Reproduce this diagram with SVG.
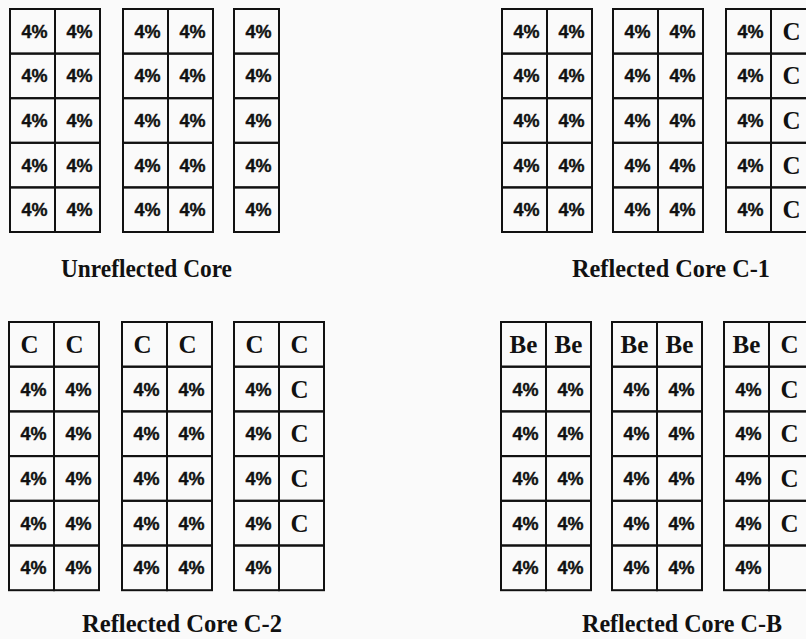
<svg xmlns="http://www.w3.org/2000/svg" width="806" height="639" viewBox="0 0 806 639">
<style>
.bg{fill:#fafafa}
.c{fill:none;stroke:#111;stroke-width:2}
.p{font-family:"Liberation Sans",Arial,sans-serif;font-weight:900;font-size:18px;fill:#111;text-anchor:middle;stroke:#111;stroke-width:0.4}
.k{font-family:"Liberation Serif","Times New Roman",serif;font-weight:bold;font-size:25px;fill:#111;text-anchor:middle}
.b{font-family:"Liberation Serif","Times New Roman",serif;font-weight:bold;font-size:25px;fill:#111;text-anchor:middle}
.t{font-family:"Liberation Serif","Times New Roman",serif;font-weight:bold;font-size:25px;fill:#111;text-anchor:middle}
</style>
<rect class="bg" x="0" y="0" width="806" height="639"/>

<g id="unreflected-core">
 <g id="ur-block1">
  <rect class="c" x="10" y="9" width="45" height="44.6"/><rect class="c" x="55" y="9" width="45" height="44.6"/>
  <rect class="c" x="10" y="53.6" width="45" height="44.6"/><rect class="c" x="55" y="53.6" width="45" height="44.6"/>
  <rect class="c" x="10" y="98.2" width="45" height="44.6"/><rect class="c" x="55" y="98.2" width="45" height="44.6"/>
  <rect class="c" x="10" y="142.8" width="45" height="44.6"/><rect class="c" x="55" y="142.8" width="45" height="44.6"/>
  <rect class="c" x="10" y="187.4" width="45" height="44.6"/><rect class="c" x="55" y="187.4" width="45" height="44.6"/>
  <text class="p" x="34.5" y="37.8">4%</text><text class="p" x="79.5" y="37.8">4%</text>
  <text class="p" x="34.5" y="82.4">4%</text><text class="p" x="79.5" y="82.4">4%</text>
  <text class="p" x="34.5" y="127">4%</text><text class="p" x="79.5" y="127">4%</text>
  <text class="p" x="34.5" y="171.6">4%</text><text class="p" x="79.5" y="171.6">4%</text>
  <text class="p" x="34.5" y="216.2">4%</text><text class="p" x="79.5" y="216.2">4%</text>
 </g>
 <g id="ur-block2">
  <rect class="c" x="123" y="9" width="45" height="44.6"/><rect class="c" x="168" y="9" width="45" height="44.6"/>
  <rect class="c" x="123" y="53.6" width="45" height="44.6"/><rect class="c" x="168" y="53.6" width="45" height="44.6"/>
  <rect class="c" x="123" y="98.2" width="45" height="44.6"/><rect class="c" x="168" y="98.2" width="45" height="44.6"/>
  <rect class="c" x="123" y="142.8" width="45" height="44.6"/><rect class="c" x="168" y="142.8" width="45" height="44.6"/>
  <rect class="c" x="123" y="187.4" width="45" height="44.6"/><rect class="c" x="168" y="187.4" width="45" height="44.6"/>
  <text class="p" x="147.5" y="37.8">4%</text><text class="p" x="192.5" y="37.8">4%</text>
  <text class="p" x="147.5" y="82.4">4%</text><text class="p" x="192.5" y="82.4">4%</text>
  <text class="p" x="147.5" y="127">4%</text><text class="p" x="192.5" y="127">4%</text>
  <text class="p" x="147.5" y="171.6">4%</text><text class="p" x="192.5" y="171.6">4%</text>
  <text class="p" x="147.5" y="216.2">4%</text><text class="p" x="192.5" y="216.2">4%</text>
 </g>
 <g id="ur-block3">
  <rect class="c" x="234" y="9" width="45" height="44.6"/>
  <rect class="c" x="234" y="53.6" width="45" height="44.6"/>
  <rect class="c" x="234" y="98.2" width="45" height="44.6"/>
  <rect class="c" x="234" y="142.8" width="45" height="44.6"/>
  <rect class="c" x="234" y="187.4" width="45" height="44.6"/>
  <text class="p" x="258.5" y="37.8">4%</text>
  <text class="p" x="258.5" y="82.4">4%</text>
  <text class="p" x="258.5" y="127">4%</text>
  <text class="p" x="258.5" y="171.6">4%</text>
  <text class="p" x="258.5" y="216.2">4%</text>
 </g>
 <text class="t" x="146.5" y="277" textLength="171" lengthAdjust="spacingAndGlyphs">Unreflected Core</text>
</g>

<g id="reflected-core-c1">
 <g id="c1-block1">
  <rect class="c" x="502" y="9" width="45" height="44.6"/><rect class="c" x="547" y="9" width="45" height="44.6"/>
  <rect class="c" x="502" y="53.6" width="45" height="44.6"/><rect class="c" x="547" y="53.6" width="45" height="44.6"/>
  <rect class="c" x="502" y="98.2" width="45" height="44.6"/><rect class="c" x="547" y="98.2" width="45" height="44.6"/>
  <rect class="c" x="502" y="142.8" width="45" height="44.6"/><rect class="c" x="547" y="142.8" width="45" height="44.6"/>
  <rect class="c" x="502" y="187.4" width="45" height="44.6"/><rect class="c" x="547" y="187.4" width="45" height="44.6"/>
  <text class="p" x="526.5" y="37.8">4%</text><text class="p" x="571.5" y="37.8">4%</text>
  <text class="p" x="526.5" y="82.4">4%</text><text class="p" x="571.5" y="82.4">4%</text>
  <text class="p" x="526.5" y="127">4%</text><text class="p" x="571.5" y="127">4%</text>
  <text class="p" x="526.5" y="171.6">4%</text><text class="p" x="571.5" y="171.6">4%</text>
  <text class="p" x="526.5" y="216.2">4%</text><text class="p" x="571.5" y="216.2">4%</text>
 </g>
 <g id="c1-block2">
  <rect class="c" x="613" y="9" width="45" height="44.6"/><rect class="c" x="658" y="9" width="45" height="44.6"/>
  <rect class="c" x="613" y="53.6" width="45" height="44.6"/><rect class="c" x="658" y="53.6" width="45" height="44.6"/>
  <rect class="c" x="613" y="98.2" width="45" height="44.6"/><rect class="c" x="658" y="98.2" width="45" height="44.6"/>
  <rect class="c" x="613" y="142.8" width="45" height="44.6"/><rect class="c" x="658" y="142.8" width="45" height="44.6"/>
  <rect class="c" x="613" y="187.4" width="45" height="44.6"/><rect class="c" x="658" y="187.4" width="45" height="44.6"/>
  <text class="p" x="637.5" y="37.8">4%</text><text class="p" x="682.5" y="37.8">4%</text>
  <text class="p" x="637.5" y="82.4">4%</text><text class="p" x="682.5" y="82.4">4%</text>
  <text class="p" x="637.5" y="127">4%</text><text class="p" x="682.5" y="127">4%</text>
  <text class="p" x="637.5" y="171.6">4%</text><text class="p" x="682.5" y="171.6">4%</text>
  <text class="p" x="637.5" y="216.2">4%</text><text class="p" x="682.5" y="216.2">4%</text>
 </g>
 <g id="c1-block3">
  <rect class="c" x="726" y="9" width="45" height="44.6"/><rect class="c" x="771" y="9" width="45" height="44.6"/>
  <rect class="c" x="726" y="53.6" width="45" height="44.6"/><rect class="c" x="771" y="53.6" width="45" height="44.6"/>
  <rect class="c" x="726" y="98.2" width="45" height="44.6"/><rect class="c" x="771" y="98.2" width="45" height="44.6"/>
  <rect class="c" x="726" y="142.8" width="45" height="44.6"/><rect class="c" x="771" y="142.8" width="45" height="44.6"/>
  <rect class="c" x="726" y="187.4" width="45" height="44.6"/><rect class="c" x="771" y="187.4" width="45" height="44.6"/>
  <text class="p" x="750.5" y="37.8">4%</text><text class="k" x="791.5" y="39.8">C</text>
  <text class="p" x="750.5" y="82.4">4%</text><text class="k" x="791.5" y="84.4">C</text>
  <text class="p" x="750.5" y="127">4%</text><text class="k" x="791.5" y="129">C</text>
  <text class="p" x="750.5" y="171.6">4%</text><text class="k" x="791.5" y="173.6">C</text>
  <text class="p" x="750.5" y="216.2">4%</text><text class="k" x="791.5" y="218.2">C</text>
 </g>
 <text class="t" x="671" y="277" textLength="198" lengthAdjust="spacingAndGlyphs">Reflected Core C-1</text>
</g>

<g id="reflected-core-c2">
 <g id="c2-block1">
  <rect class="c" x="9" y="322" width="45" height="44.7"/><rect class="c" x="54" y="322" width="45" height="44.7"/>
  <rect class="c" x="9" y="366.7" width="45" height="44.7"/><rect class="c" x="54" y="366.7" width="45" height="44.7"/>
  <rect class="c" x="9" y="411.4" width="45" height="44.7"/><rect class="c" x="54" y="411.4" width="45" height="44.7"/>
  <rect class="c" x="9" y="456.1" width="45" height="44.7"/><rect class="c" x="54" y="456.1" width="45" height="44.7"/>
  <rect class="c" x="9" y="500.8" width="45" height="44.7"/><rect class="c" x="54" y="500.8" width="45" height="44.7"/>
  <rect class="c" x="9" y="545.5" width="45" height="44.7"/><rect class="c" x="54" y="545.5" width="45" height="44.7"/>
  <text class="k" x="29.5" y="352.9">C</text><text class="k" x="74.5" y="352.9">C</text>
  <text class="p" x="33.5" y="395.5">4%</text><text class="p" x="78.5" y="395.5">4%</text>
  <text class="p" x="33.5" y="440.3">4%</text><text class="p" x="78.5" y="440.3">4%</text>
  <text class="p" x="33.5" y="485">4%</text><text class="p" x="78.5" y="485">4%</text>
  <text class="p" x="33.5" y="529.7">4%</text><text class="p" x="78.5" y="529.7">4%</text>
  <text class="p" x="33.5" y="574.4">4%</text><text class="p" x="78.5" y="574.4">4%</text>
 </g>
 <g id="c2-block2">
  <rect class="c" x="122" y="322" width="45" height="44.7"/><rect class="c" x="167" y="322" width="45" height="44.7"/>
  <rect class="c" x="122" y="366.7" width="45" height="44.7"/><rect class="c" x="167" y="366.7" width="45" height="44.7"/>
  <rect class="c" x="122" y="411.4" width="45" height="44.7"/><rect class="c" x="167" y="411.4" width="45" height="44.7"/>
  <rect class="c" x="122" y="456.1" width="45" height="44.7"/><rect class="c" x="167" y="456.1" width="45" height="44.7"/>
  <rect class="c" x="122" y="500.8" width="45" height="44.7"/><rect class="c" x="167" y="500.8" width="45" height="44.7"/>
  <rect class="c" x="122" y="545.5" width="45" height="44.7"/><rect class="c" x="167" y="545.5" width="45" height="44.7"/>
  <text class="k" x="142.5" y="352.9">C</text><text class="k" x="187.5" y="352.9">C</text>
  <text class="p" x="146.5" y="395.5">4%</text><text class="p" x="191.5" y="395.5">4%</text>
  <text class="p" x="146.5" y="440.3">4%</text><text class="p" x="191.5" y="440.3">4%</text>
  <text class="p" x="146.5" y="485">4%</text><text class="p" x="191.5" y="485">4%</text>
  <text class="p" x="146.5" y="529.7">4%</text><text class="p" x="191.5" y="529.7">4%</text>
  <text class="p" x="146.5" y="574.4">4%</text><text class="p" x="191.5" y="574.4">4%</text>
 </g>
 <g id="c2-block3">
  <rect class="c" x="234" y="322" width="45" height="44.7"/><rect class="c" x="279" y="322" width="45" height="44.7"/>
  <rect class="c" x="234" y="366.7" width="45" height="44.7"/><rect class="c" x="279" y="366.7" width="45" height="44.7"/>
  <rect class="c" x="234" y="411.4" width="45" height="44.7"/><rect class="c" x="279" y="411.4" width="45" height="44.7"/>
  <rect class="c" x="234" y="456.1" width="45" height="44.7"/><rect class="c" x="279" y="456.1" width="45" height="44.7"/>
  <rect class="c" x="234" y="500.8" width="45" height="44.7"/><rect class="c" x="279" y="500.8" width="45" height="44.7"/>
  <rect class="c" x="234" y="545.5" width="45" height="44.7"/><rect class="c" x="279" y="545.5" width="45" height="44.7"/>
  <text class="k" x="254.5" y="352.9">C</text><text class="k" x="299.5" y="352.9">C</text>
  <text class="p" x="258.5" y="395.5">4%</text><text class="k" x="299.5" y="397.5">C</text>
  <text class="p" x="258.5" y="440.3">4%</text><text class="k" x="299.5" y="442.3">C</text>
  <text class="p" x="258.5" y="485">4%</text><text class="k" x="299.5" y="487">C</text>
  <text class="p" x="258.5" y="529.7">4%</text><text class="k" x="299.5" y="531.7">C</text>
  <text class="p" x="258.5" y="574.4">4%</text>
 </g>
 <text class="t" x="182" y="632" textLength="200" lengthAdjust="spacingAndGlyphs">Reflected Core C-2</text>
</g>

<g id="reflected-core-cb">
 <g id="cb-block1">
  <rect class="c" x="501" y="322" width="45" height="44.7"/><rect class="c" x="546" y="322" width="45" height="44.7"/>
  <rect class="c" x="501" y="366.7" width="45" height="44.7"/><rect class="c" x="546" y="366.7" width="45" height="44.7"/>
  <rect class="c" x="501" y="411.4" width="45" height="44.7"/><rect class="c" x="546" y="411.4" width="45" height="44.7"/>
  <rect class="c" x="501" y="456.1" width="45" height="44.7"/><rect class="c" x="546" y="456.1" width="45" height="44.7"/>
  <rect class="c" x="501" y="500.8" width="45" height="44.7"/><rect class="c" x="546" y="500.8" width="45" height="44.7"/>
  <rect class="c" x="501" y="545.5" width="45" height="44.7"/><rect class="c" x="546" y="545.5" width="45" height="44.7"/>
  <text class="b" x="523.5" y="352.9">Be</text><text class="b" x="568.5" y="352.9">Be</text>
  <text class="p" x="525.5" y="395.5">4%</text><text class="p" x="570.5" y="395.5">4%</text>
  <text class="p" x="525.5" y="440.3">4%</text><text class="p" x="570.5" y="440.3">4%</text>
  <text class="p" x="525.5" y="485">4%</text><text class="p" x="570.5" y="485">4%</text>
  <text class="p" x="525.5" y="529.7">4%</text><text class="p" x="570.5" y="529.7">4%</text>
  <text class="p" x="525.5" y="574.4">4%</text><text class="p" x="570.5" y="574.4">4%</text>
 </g>
 <g id="cb-block2">
  <rect class="c" x="612" y="322" width="45" height="44.7"/><rect class="c" x="657" y="322" width="45" height="44.7"/>
  <rect class="c" x="612" y="366.7" width="45" height="44.7"/><rect class="c" x="657" y="366.7" width="45" height="44.7"/>
  <rect class="c" x="612" y="411.4" width="45" height="44.7"/><rect class="c" x="657" y="411.4" width="45" height="44.7"/>
  <rect class="c" x="612" y="456.1" width="45" height="44.7"/><rect class="c" x="657" y="456.1" width="45" height="44.7"/>
  <rect class="c" x="612" y="500.8" width="45" height="44.7"/><rect class="c" x="657" y="500.8" width="45" height="44.7"/>
  <rect class="c" x="612" y="545.5" width="45" height="44.7"/><rect class="c" x="657" y="545.5" width="45" height="44.7"/>
  <text class="b" x="634.5" y="352.9">Be</text><text class="b" x="679.5" y="352.9">Be</text>
  <text class="p" x="636.5" y="395.5">4%</text><text class="p" x="681.5" y="395.5">4%</text>
  <text class="p" x="636.5" y="440.3">4%</text><text class="p" x="681.5" y="440.3">4%</text>
  <text class="p" x="636.5" y="485">4%</text><text class="p" x="681.5" y="485">4%</text>
  <text class="p" x="636.5" y="529.7">4%</text><text class="p" x="681.5" y="529.7">4%</text>
  <text class="p" x="636.5" y="574.4">4%</text><text class="p" x="681.5" y="574.4">4%</text>
 </g>
 <g id="cb-block3">
  <rect class="c" x="724" y="322" width="45" height="44.7"/><rect class="c" x="769" y="322" width="45" height="44.7"/>
  <rect class="c" x="724" y="366.7" width="45" height="44.7"/><rect class="c" x="769" y="366.7" width="45" height="44.7"/>
  <rect class="c" x="724" y="411.4" width="45" height="44.7"/><rect class="c" x="769" y="411.4" width="45" height="44.7"/>
  <rect class="c" x="724" y="456.1" width="45" height="44.7"/><rect class="c" x="769" y="456.1" width="45" height="44.7"/>
  <rect class="c" x="724" y="500.8" width="45" height="44.7"/><rect class="c" x="769" y="500.8" width="45" height="44.7"/>
  <rect class="c" x="724" y="545.5" width="45" height="44.7"/><rect class="c" x="769" y="545.5" width="45" height="44.7"/>
  <text class="b" x="746.5" y="352.9">Be</text><text class="k" x="789.5" y="352.9">C</text>
  <text class="p" x="748.5" y="395.5">4%</text><text class="k" x="789.5" y="397.5">C</text>
  <text class="p" x="748.5" y="440.3">4%</text><text class="k" x="789.5" y="442.3">C</text>
  <text class="p" x="748.5" y="485">4%</text><text class="k" x="789.5" y="487">C</text>
  <text class="p" x="748.5" y="529.7">4%</text><text class="k" x="789.5" y="531.7">C</text>
  <text class="p" x="748.5" y="574.4">4%</text>
 </g>
 <text class="t" x="682" y="632" textLength="200" lengthAdjust="spacingAndGlyphs">Reflected Core C-B</text>
</g>

<g id="connectors"></g>
</svg>
